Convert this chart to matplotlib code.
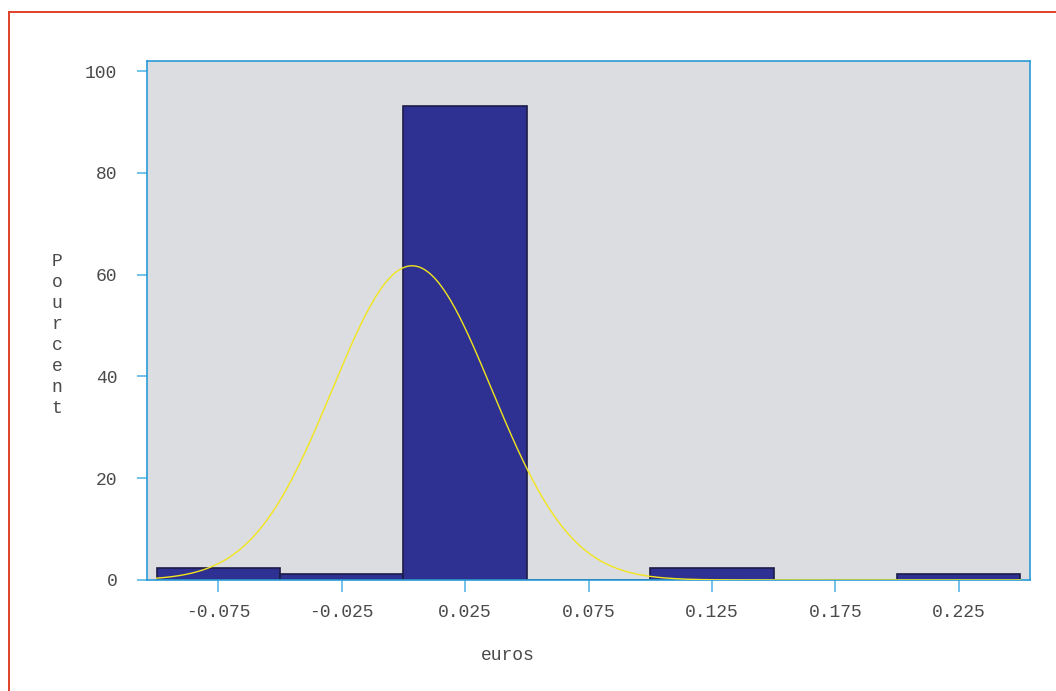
import numpy as np
import matplotlib
matplotlib.use("Agg")
import matplotlib.pyplot as plt
from matplotlib.lines import Line2D

plt.rcParams["font.family"] = ["Liberation Mono", "DejaVu Sans Mono"]
plt.rcParams["axes.unicode_minus"] = False

# Histogram of price differences (euros), in percent of observations
bin_centers = [-0.075, -0.025, 0.025, 0.075, 0.125, 0.175, 0.225]
percent = [2.3, 1.15, 93.1, 0.0, 2.3, 0.0, 1.15]
bin_width = 0.05

# Fitted normal curve parameters
curve_mean = 0.0035
curve_sigma = 0.0323

x_ticks = [-0.075, -0.025, 0.025, 0.075, 0.125, 0.175, 0.225]
y_ticks = [0, 20, 40, 60, 80, 100]

fig = plt.figure(figsize=(10.56, 6.91), dpi=100)
fig.patch.set_facecolor("white")

# red frame lines along top and left edges
fig.add_artist(Line2D([9 / 1056, 1.0], [1 - 12 / 691, 1 - 12 / 691],
                      transform=fig.transFigure, color="#e0402a", lw=1.4))
fig.add_artist(Line2D([9 / 1056, 9 / 1056], [0.0, 1 - 12 / 691],
                      transform=fig.transFigure, color="#e0402a", lw=1.4))

ax = fig.add_axes([147 / 1056, (691 - 580) / 691, 883 / 1056, 519 / 691])
ax.set_facecolor("#dcdde0")

ax.bar(bin_centers, percent, width=bin_width, align="center",
       color="#2e3192", edgecolor="#1c1c48", linewidth=1.2, zorder=2)

xs = np.linspace(bin_centers[0] - bin_width / 2, bin_centers[-1] + bin_width / 2, 600)
ys = 100 * bin_width / (curve_sigma * np.sqrt(2 * np.pi)) * np.exp(-0.5 * ((xs - curve_mean) / curve_sigma) ** 2)
ax.plot(xs, ys, color="#f2e51c", lw=1.0, zorder=3)

ax.set_xlim(-0.1039, 0.2539)
ax.set_ylim(0, 102)

ax.set_xticks(x_ticks)
ax.set_xticklabels([f"{v:.3f}" for v in x_ticks])
ax.set_yticks(y_ticks)
ax.set_yticklabels([str(v) for v in y_ticks])

for s in ax.spines.values():
    s.set_color("#2a9bd8")
    s.set_linewidth(1.2)

ax.tick_params(axis="x", direction="out", length=8.5, width=1.2, color="#5ab8e8",
               labelsize=13, labelcolor="#4a4a4a", pad=9)
ax.tick_params(axis="y", direction="out", length=7.5, width=1.2, color="#5ab8e8",
               labelsize=13, labelcolor="#4a4a4a", pad=14)

fig.text(508 / 1056, 1 - 656 / 691, "euros", ha="center", va="center",
         fontsize=13, color="#4a4a4a")
fig.text(57 / 1056, 1 - 335 / 691, "\n".join("Pourcent"), ha="center", va="center",
         fontsize=13, color="#4a4a4a", linespacing=1.3)

fig.savefig("out.png", dpi=100)
